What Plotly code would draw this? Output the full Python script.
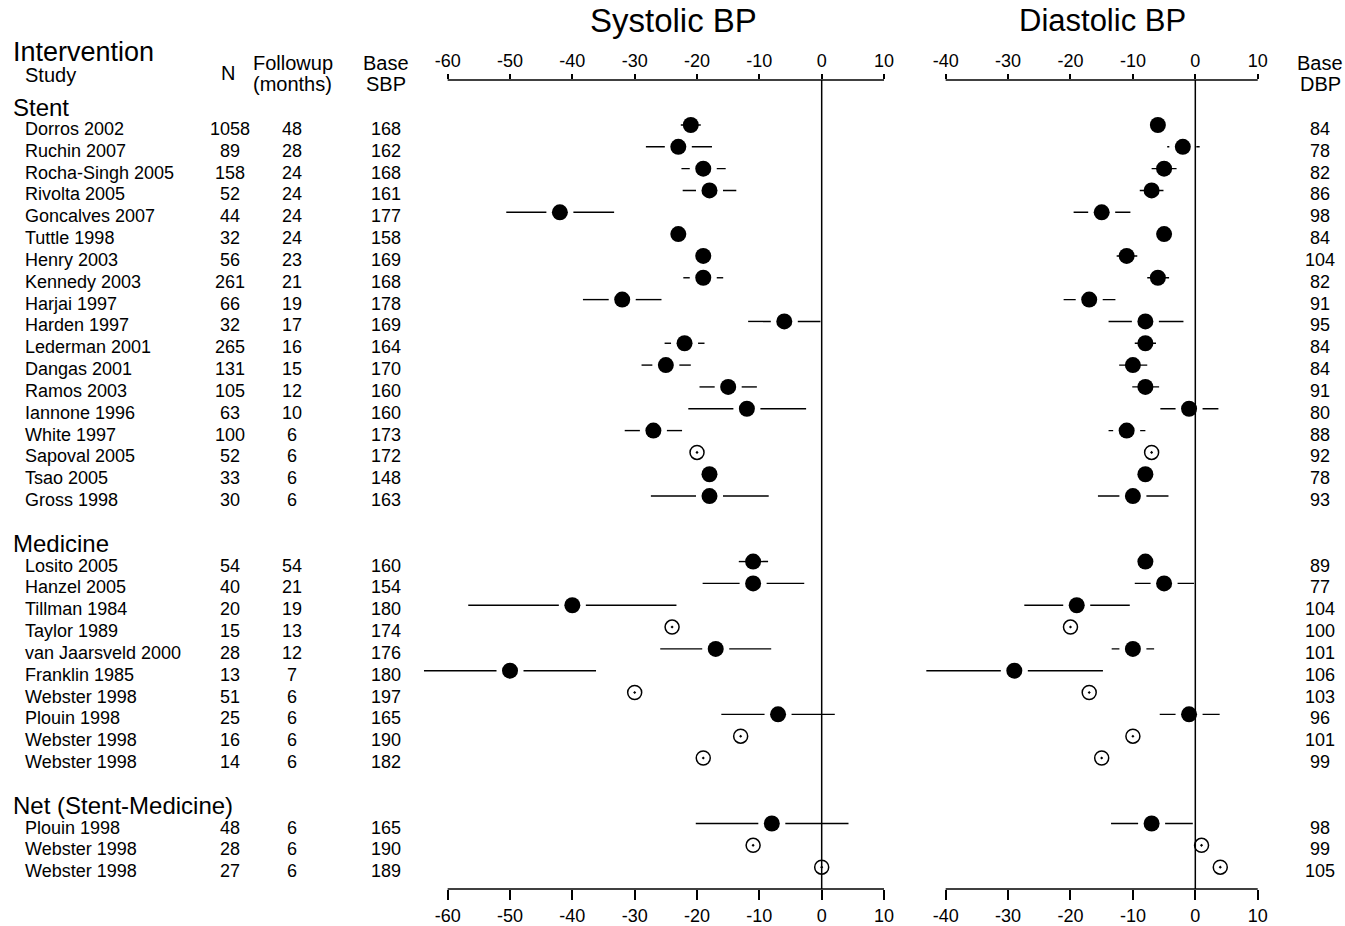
import plotly.graph_objects as go

# ---------------- data ----------------
section = ["Stent"] * 18 + ["Medicine"] * 10 + ["Net (Stent-Medicine)"] * 3
authors = ["Dorros", "Ruchin", "Rocha-Singh", "Rivolta", "Goncalves", "Tuttle", "Henry",
           "Kennedy", "Harjai", "Harden", "Lederman", "Dangas", "Ramos", "Iannone", "White",
           "Sapoval", "Tsao", "Gross",
           "Losito", "Hanzel", "Tillman", "Taylor", "van Jaarsveld", "Franklin", "Webster",
           "Plouin", "Webster", "Webster",
           "Plouin", "Webster", "Webster"]
years = [2002, 2007, 2005, 2005, 2007, 1998, 2003, 2003, 1997, 1997, 2001, 2001, 2003, 1996,
         1997, 2005, 2005, 1998,
         2005, 2005, 1984, 1989, 2000, 1985, 1998, 1998, 1998, 1998,
         1998, 1998, 1998]
n_pat = [1058, 89, 158, 52, 44, 32, 56, 261, 66, 32, 265, 131, 105, 63, 100, 52, 33, 30,
         54, 40, 20, 15, 28, 13, 51, 25, 16, 14,
         48, 28, 27]
followup = [48, 28, 24, 24, 24, 24, 23, 21, 19, 17, 16, 15, 12, 10, 6, 6, 6, 6,
            54, 21, 19, 13, 12, 7, 6, 6, 6, 6,
            6, 6, 6]
base_sbp = [168, 162, 168, 161, 177, 158, 169, 168, 178, 169, 164, 170, 160, 160, 173, 172, 148, 163,
            160, 154, 180, 174, 176, 180, 197, 165, 190, 182,
            165, 190, 189]
base_dbp = [84, 78, 82, 86, 98, 84, 104, 82, 91, 95, 84, 84, 91, 80, 88, 92, 78, 93,
            89, 77, 104, 100, 101, 106, 103, 96, 101, 99,
            98, 99, 105]
# True = filled marker (with CI), False = open marker
solid = [True, True, True, True, True, True, True, True, True, True, True, True, True, True,
         True, False, True, True,
         True, True, True, False, True, True, False, True, False, False,
         True, False, False]

sbp_change = [-21, -23, -19, -18, -42, -23, -19, -19, -32, -6, -22, -25, -15, -12, -27, -20, -18, -18,
              -11, -11, -40, -24, -17, -50, -30, -7, -13, -19,
              -8, -11, 0]
sbp_lo = [-22.6, -28.2, -22.5, -22.3, -50.6, None, None, -22.2, -38.3, -11.8, -25.2, -28.9, -19.6,
          -21.4, -31.6, None, None, -27.4,
          -13.3, -19.1, -56.7, None, -25.9, -63.8, None, -16.1, None, None,
          -20.2, None, None]
sbp_hi = [-19.4, -17.6, -15.4, -13.7, -33.3, None, None, -15.8, -25.7, -0.2, -18.8, -21.0, -10.4,
          -2.5, -22.4, None, None, -8.5,
          -8.6, -2.8, -23.3, None, -8.1, -36.2, None, 2.1, None, None,
          4.3, None, None]

dbp_change = [-6, -2, -5, -7, -15, -5, -11, -6, -17, -8, -8, -10, -8, -1, -11, -7, -8, -10,
              -8, -5, -19, -20, -10, -29, -17, -1, -10, -15,
              -7, 1, 4]
dbp_lo = [None, -4.5, -7.0, -8.9, -19.5, None, -12.6, -7.7, -21.1, -13.9, -9.7, -12.2, -10.1,
          -5.6, -13.9, None, None, -15.6,
          None, -9.7, -27.4, None, -13.4, -43.1, None, -5.7, None, None,
          -13.5, None, None]
dbp_hi = [None, 0.7, -3.0, -5.1, -10.4, None, -9.3, -4.2, -12.8, -1.9, -6.3, -7.7, -5.8,
          3.7, -8.0, None, None, -4.3,
          None, -0.2, -10.5, None, -6.6, -14.8, None, 3.9, None, None,
          -0.4, None, None]

sys_ticks = [-60, -50, -40, -30, -20, -10, 0, 10]
dia_ticks = [-40, -30, -20, -10, 0, 10]

# ---------------- layout geometry ----------------
W, H = 1345, 926
FONT = "Liberation Sans, Arial, Helvetica, sans-serif"
sys_range = [-65, 12]
sys_dom_px = [416.5, 896.5]
dia_range = [-44, 12]
dia_dom_px = [920.7, 1270.2]
top_px, bot_px = 80, 889
y_range = [36.0, -1.06]
GAP_PX = 13.5

# row positions: header row per section, blank row between sections
rows, header_rows = [], []
r = 0
prev = None
for s in section:
    if s != prev:
        if prev is not None:
            r += 1
        header_rows.append((s, r))
        r += 1
        prev = s
    rows.append(r)
    r += 1


def px(x):
    return x / W


def ci_segments(est, lo, hi, ppu):
    g = GAP_PX / ppu
    xs, ys = [], []
    for e, l, h, yy in zip(est, lo, hi, rows):
        if l is None or h is None:
            continue
        if (e - l) > g + 0.15 and (h - e) > g + 0.15:
            xs += [l, e - g, None, e + g, h, None]
            ys += [yy, yy, None, yy, yy, None]
        else:
            xs += [l, h, None]
            ys += [yy, yy, None]
    return xs, ys


fig = go.Figure()

panels = [
    ("x", sbp_change, sbp_lo, sbp_hi, sys_range, sys_dom_px),
    ("x2", dbp_change, dbp_lo, dbp_hi, dia_range, dia_dom_px),
]
for xa, est, lo, hi, rng, dom in panels:
    ppu = (dom[1] - dom[0]) / (rng[1] - rng[0])
    xs, ys = ci_segments(est, lo, hi, ppu)
    fig.add_trace(go.Scatter(x=xs, y=ys, mode="lines", xaxis=xa, yaxis="y",
                             line=dict(color="black", width=1.4), hoverinfo="skip"))
    fx = [e for e, s in zip(est, solid) if s]
    fy = [yy for yy, s in zip(rows, solid) if s]
    ox = [e for e, s in zip(est, solid) if not s]
    oy = [yy for yy, s in zip(rows, solid) if not s]
    fig.add_trace(go.Scatter(x=fx, y=fy, mode="markers", xaxis=xa, yaxis="y",
                             marker=dict(symbol="circle", size=16, color="black",
                                         line=dict(width=0))))
    fig.add_trace(go.Scatter(x=ox, y=oy, mode="markers", xaxis=xa, yaxis="y",
                             marker=dict(symbol="circle-open-dot", size=14, color="black",
                                         line=dict(width=1.5, color="black"))))

# invisible traces so the top axes render
fig.add_trace(go.Scatter(x=[sys_ticks[0]], y=[0], xaxis="x3", yaxis="y", mode="markers",
                         marker=dict(opacity=0), hoverinfo="skip"))
fig.add_trace(go.Scatter(x=[dia_ticks[0]], y=[0], xaxis="x4", yaxis="y", mode="markers",
                         marker=dict(opacity=0), hoverinfo="skip"))

ydom = [(H - bot_px) / H, (H - top_px) / H]


def xaxis(rng, dom, ticks, side, ticklen, overlay=None):
    d = dict(range=rng, domain=[px(dom[0]), px(dom[1])], tickvals=ticks,
             ticktext=[str(t) for t in ticks], ticks="outside", ticklen=ticklen, tickwidth=1.5,
             tickcolor="black", showline=False, showgrid=False, zeroline=False,
             side=side, anchor="y", tickfont=dict(family=FONT, size=18, color="black"),
             fixedrange=True)
    if overlay:
        d["overlaying"] = overlay
    return d


fig.update_layout(
    width=W, height=H, margin=dict(l=0, r=0, t=0, b=0),
    paper_bgcolor="white", plot_bgcolor="white", showlegend=False,
    xaxis=xaxis(sys_range, sys_dom_px, sys_ticks, "bottom", 10),
    xaxis2=xaxis(dia_range, dia_dom_px, dia_ticks, "bottom", 10),
    xaxis3=xaxis(sys_range, sys_dom_px, sys_ticks, "top", 5, "x"),
    xaxis4=xaxis(dia_range, dia_dom_px, dia_ticks, "top", 5, "x2"),
    yaxis=dict(range=y_range, domain=ydom, visible=False, fixedrange=True),
)

# axis lines and zero lines
shapes = []
for xa, ticks in [("x", sys_ticks), ("x2", dia_ticks)]:
    for yv in (0, 1):
        shapes.append(dict(type="line", xref=xa, yref="y domain", x0=ticks[0], x1=ticks[-1],
                           y0=yv, y1=yv, line=dict(color="black", width=1.5)))
    shapes.append(dict(type="line", xref=xa, yref="y domain", x0=0, x1=0, y0=0, y1=1,
                       line=dict(color="black", width=1.5)))
fig.update_layout(shapes=shapes)

ann = []


def add_text(text, xpx, y, yref="y", size=18, anchor="left", yshift=-4):
    ann.append(dict(text=text, x=px(xpx), xref="paper", y=y, yref=yref, xanchor=anchor,
                    yanchor="middle", yshift=yshift, showarrow=False,
                    font=dict(family=FONT, size=size, color="black")))


def ypaper(ypx):
    return 1 - ypx / H


# titles
add_text("Systolic BP", 673, ypaper(20), "paper", 33, "center", 0)
add_text("Diastolic BP", 1102, ypaper(20), "paper", 31, "center", 0)
# column headers
add_text("Intervention", 11, ypaper(52), "paper", 27, "left", 0)
add_text("Study", 23, ypaper(75), "paper", 20, "left", 0)
add_text("N", 228, ypaper(73), "paper", 20, "center", 0)
add_text("Followup", 292.5, ypaper(63), "paper", 20, "center", 0)
add_text("(months)", 292.5, ypaper(84), "paper", 20, "center", 0)
add_text("Base", 385.5, ypaper(63), "paper", 20, "center", 0)
add_text("SBP", 385.5, ypaper(84), "paper", 20, "center", 0)
add_text("Base", 1320, ypaper(63), "paper", 20, "center", 0)
add_text("DBP", 1320, ypaper(84), "paper", 20, "center", 0)

for name, rr in header_rows:
    add_text(name, 11, rr, "y", 24, "left", -4)

for i, rr in enumerate(rows):
    add_text(f"{authors[i]} {years[i]}", 23, rr)
    add_text(str(n_pat[i]), 229.5, rr, anchor="center")
    add_text(str(followup[i]), 291.5, rr, anchor="center")
    add_text(str(base_sbp[i]), 385.5, rr, anchor="center")
    add_text(str(base_dbp[i]), 1320, rr, anchor="center")

fig.update_layout(annotations=ann)

fig.write_html("out.html", config={"displayModeBar": False},
               post_script="document.body.style.margin='0px';document.body.style.padding='0px';")
